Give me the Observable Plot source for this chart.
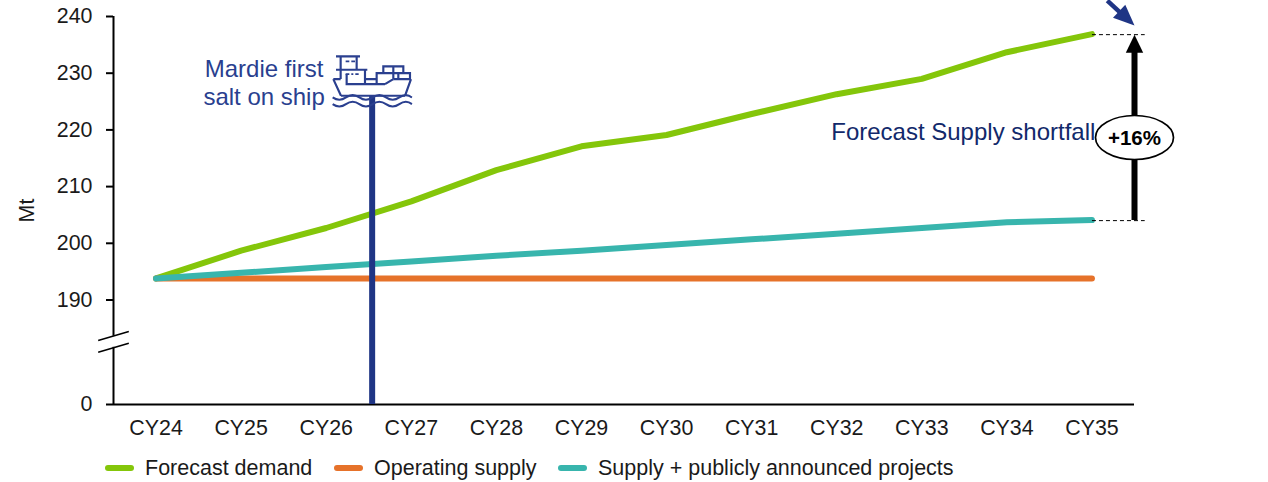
<!DOCTYPE html>
<html>
<head>
<meta charset="utf-8">
<script src="https://cdn.jsdelivr.net/npm/d3@7"></script>
<script src="https://cdn.jsdelivr.net/npm/@observablehq/plot@0.6"></script>
<style>
html,body{margin:0;padding:0;background:#fff;overflow:hidden}
#legend{position:relative;height:37px;font:21.5px "Liberation Sans",Arial,sans-serif;color:#1a1a1a}
#legend .i{position:absolute;top:11px;display:flex;align-items:center;height:24px;white-space:nowrap}
#legend .s{width:29px;height:6px;border-radius:3px;margin-right:11px}
svg text{font-family:"Liberation Sans",Arial,sans-serif}
</style>
</head>
<body>
<div id="chart"></div>
<div id="legend"></div>
<script>
const years = [2024,2025,2026,2027,2028,2029,2030,2031,2032,2033,2034,2035];
const demand = [193.8,198.7,202.7,207.4,212.9,217.1,219.1,222.8,226.3,229,233.7,236.9];
const operating = [193.8,193.8,193.8,193.8,193.8,193.8,193.8,193.8,193.8,193.8,193.8,193.8];
const announced = [193.8,194.8,195.8,196.8,197.8,198.7,199.7,200.7,201.7,202.7,203.7,204.1];
const seriesNames = ["Forecast demand","Operating supply","Supply + publicly announced projects"];
const seriesColors = ["#84c60a","#e6722a","#38b5ad"];
const yTicks = [0,190,200,210,220,230,240];
const legendLefts = [105,334,558];
const mardieYear = 2026.54;
const shipSvg = `<svg xmlns="http://www.w3.org/2000/svg" viewBox="455 42 243 165"><g fill="none" stroke="#2a3f8f" stroke-width="6.5">
<path d="M468 47H540M482 47V87M530 47V87M468 87H562M555 87V130M482 87V115M500 100V130H615"/>
<path d="M497 62H508M514 62H525M497 100H508M514 100H520M526 100H536" stroke-width="5"/>
<path d="M460 115H482M555 115H590M640 115H693M460 115L483 165M693 115L675 165M483 165H675"/>
<path d="M610 97V77H670V97M590 115V97H690V115M590 130V115M615 130L640 115M640 97V115M655 97V115M640 77V97"/>
<path d="M458 170q20 14 40 0t40 0t40 0t40 0t40 0t38 0M458 190q20 14 40 0t40 0t40 0t40 0t40 0t38 0" stroke-width="6"/></g></svg>`;
const shipSrc = "data:image/svg+xml," + encodeURIComponent(shipSvg);

const row = v => years.map((year,i)=>({year,value:v[i]}));
const tipUp = {draw(c){c.moveTo(0,0);c.lineTo(8.7,18);c.lineTo(-8.7,18);c.closePath();}};
const tipNavy = {draw(c){c.moveTo(0,0);c.lineTo(9,21);c.lineTo(-9,21);c.closePath();}};
const ellipse = {draw(c){
  const a=39,b=22,k=0.5523;
  c.moveTo(-a,0);
  c.bezierCurveTo(-a,-b*k,-a*k,-b,0,-b);
  c.bezierCurveTo(a*k,-b,a,-b*k,a,0);
  c.bezierCurveTo(a,b*k,a*k,b,0,b);
  c.bezierCurveTo(-a*k,b,-a,b*k,-a,0);
  c.closePath();
}};
const txt = {fontSize:24, lineAnchor:"middle"};

const chart = Plot.plot({
  width:1268, height:445, marginTop:16, marginBottom:41, marginLeft:113, marginRight:134,
  style:{background:"#fff",color:"#1a1a1a",fontFamily:"Liberation Sans, Arial, sans-serif",overflow:"hidden"},
  x:{type:"linear",domain:[2023.5,2035.5],range:[113,1134]},
  y:{type:"linear",domain:[0,190,240],range:[404,299.5,16]},
  marks:[
    Plot.axisY({ticks:yTicks,tickSize:7,tickPadding:14,strokeWidth:2,stroke:"#000",fontSize:21.4,label:"Mt",labelAnchor:"center",labelArrow:"none",labelOffset:95}),
    Plot.axisX({ticks:years,tickSize:0,tickPadding:15,tickFormat:d=>"CY"+String(d).slice(2),fontSize:21.4,label:null}),
    Plot.ruleY([0],{x1:2023.5,x2:2035.5,stroke:"#000",strokeWidth:2}),
    Plot.ruleX([2023.5],{y1:124,y2:240,stroke:"#000",strokeWidth:2}),
    Plot.ruleX([2023.5],{y1:0,y2:104,stroke:"#000",strokeWidth:2}),
    Plot.link([[2023.32,116.4,2023.68,132.7],[2023.32,95.1,2023.68,111.5]],{x1:d=>d[0],y1:d=>d[1],x2:d=>d[2],y2:d=>d[3],stroke:"#000",strokeWidth:1.5}),

    Plot.line(row(demand),{x:"year",y:"value",stroke:seriesColors[0],strokeWidth:6,strokeLinecap:"round",strokeLinejoin:"round"}),
    Plot.line(row(operating),{x:"year",y:"value",stroke:seriesColors[1],strokeWidth:6,strokeLinecap:"round"}),
    Plot.line(row(announced),{x:"year",y:"value",stroke:seriesColors[2],strokeWidth:6,strokeLinecap:"round"}),

    Plot.ruleX([mardieYear],{y1:0,y2:226,stroke:"#1f3585",strokeWidth:6}),
    Plot.image([{x:mardieYear,y:228.4}],{x:"x",y:"y",src:()=>shipSrc,width:81,height:55,preserveAspectRatio:"none"}),
    Plot.text(["Mardie first"],{x:2025.27,y:230.7,text:d=>d,fill:"#2a3f8f",...txt}),
    Plot.text(["salt on ship"],{x:2025.27,y:225.75,text:d=>d,fill:"#2a3f8f",...txt}),

    Plot.link([[2035,236.8],[2035,204]],{x1:d=>d[0],y1:d=>d[1],x2:()=>2035.62,y2:d=>d[1],stroke:"#000",strokeWidth:1,strokeDasharray:"4 3"}),
    Plot.ruleX([2035.5],{y1:204,y2:234,stroke:"#000",strokeWidth:6}),
    Plot.dot([{x:2035.5,y:236.8}],{x:"x",y:"y",symbol:()=>tipUp,fill:"#000",stroke:"none",r:5}),
    Plot.dot([{x:2035.5,y:218.66}],{x:"x",y:"y",symbol:()=>ellipse,fill:"#fff",stroke:"#000",strokeWidth:1.7,r:5}),
    Plot.text(["+16%"],{x:2035.5,y:218.5,text:d=>d,fontSize:20.5,fontWeight:"bold",fill:"#000",lineAnchor:"middle"}),
    Plot.text(["Forecast Supply shortfall"],{x:2035.04,y:219.6,text:d=>d,textAnchor:"end",fill:"#12296b",...txt}),

    Plot.link([[2035.18,242.8,2035.39,239.9]],{x1:d=>d[0],y1:d=>d[1],x2:d=>d[2],y2:d=>d[3],stroke:"#1f3585",strokeWidth:4.5}),
    Plot.dot([{x:2035.5,y:238.4}],{x:"x",y:"y",symbol:()=>tipNavy,rotate:133,fill:"#1f3585",stroke:"none",r:5})
  ]
});
document.getElementById("chart").append(chart);

const legend = d3.select("#legend");
seriesNames.forEach((name,i)=>{
  const item = legend.append("div").attr("class","i").style("left",legendLefts[i]+"px");
  item.append("div").attr("class","s").style("background",seriesColors[i]);
  item.append("span").text(name);
});
</script>
</body>
</html>
